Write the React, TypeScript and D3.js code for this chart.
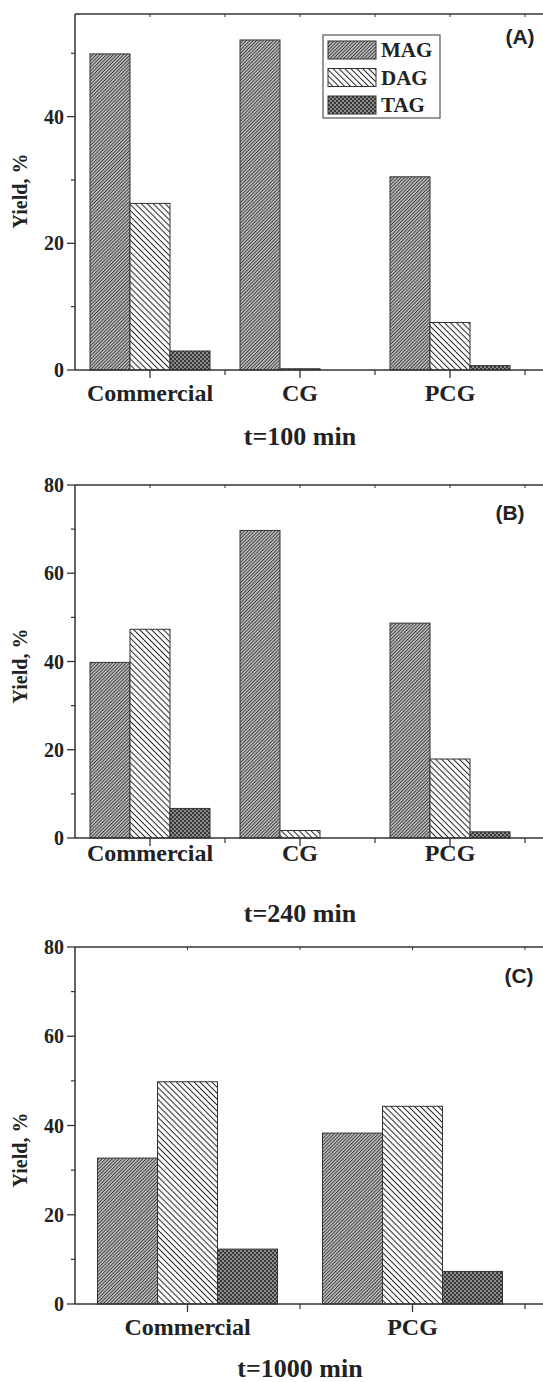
import * as d3 from "d3";

const seriesNames = ["MAG", "DAG", "TAG"];

// panel (A) t=100 min
const catsA = ["Commercial", "CG", "PCG"];
const magA = [49.9, 52.1, 30.5];
const dagA = [26.3, 0.2, 7.5];
const tagA = [3.0, 0, 0.7];

// panel (B) t=240 min
const catsB = ["Commercial", "CG", "PCG"];
const magB = [39.8, 69.7, 48.7];
const dagB = [47.3, 1.7, 17.9];
const tagB = [6.7, 0, 1.4];

// panel (C) t=1000 min
const catsC = ["Commercial", "PCG"];
const magC = [32.7, 38.3];
const dagC = [49.8, 44.3];
const tagC = [12.3, 7.3];

const ticksA = [0, 20, 40];
const minorA = [10, 30, 50];
const ticksBC = [0, 20, 40, 60, 80];
const minorBC = [10, 30, 50, 70];

const fills: Record<string, string> = {
  MAG: "url(#magFill)",
  DAG: "url(#dagFill)",
  TAG: "url(#tagFill)",
};

const serif = "'Liberation Serif', 'Times New Roman', serif";
const sans = "'Liberation Sans', Arial, sans-serif";
const ink = "#333";

interface PanelProps {
  cats: string[];
  values: number[][];
  top: number;
  bottom: number;
  yMax: number;
  ticks: number[];
  minor: number[];
  letter: string;
  letterX: number;
  letterY: number;
  catLabelY: number;
  title: string;
  titleY: number;
  yLabelY: number;
  legend?: boolean;
}

const Panel = (p: PanelProps) => {
  const left = 75;
  const right = 525;
  const x = d3.scaleBand<string>().domain(p.cats).range([left, right]).paddingInner(0.2).paddingOuter(0.1);
  const step = x.step();
  const inner = d3.scaleBand<string>().domain(seriesNames).range([0, x.bandwidth()]);
  const y = d3.scaleLinear().domain([0, p.yMax]).range([p.bottom, p.top]);

  const centers = p.cats.map((c) => (x(c) as number) + x.bandwidth() / 2);
  const bounds = d3.range(p.cats.length + 1).map((i) => left + i * step).slice(1);

  return (
    <g>
      {/* bars */}
      {p.cats.map((c, ci) =>
        seriesNames.map((s, si) => {
          const v = p.values[si][ci];
          if (v <= 0) return null;
          return (
            <rect
              key={c + s}
              x={(x(c) as number) + (inner(s) as number)}
              y={y(v)}
              width={inner.bandwidth()}
              height={p.bottom - y(v)}
              fill={fills[s]}
              stroke={ink}
              strokeWidth={1}
            />
          );
        })
      )}

      {/* frame */}
      <line x1={left} x2={560} y1={p.top} y2={p.top} stroke={ink} strokeWidth={1.5} />
      <line x1={left} x2={560} y1={p.bottom} y2={p.bottom} stroke={ink} strokeWidth={1.5} />
      <line x1={left} x2={left} y1={p.top} y2={p.bottom} stroke={ink} strokeWidth={1.5} />

      {/* y ticks */}
      {p.ticks.map((t) => (
        <g key={"t" + t}>
          <line x1={left - 8} x2={left} y1={y(t)} y2={y(t)} stroke={ink} strokeWidth={1.3} />
          <text
            x={left - 11}
            y={y(t) + 7}
            textAnchor="end"
            fontFamily={serif}
            fontWeight="bold"
            fontSize={20}
            fill="#222"
          >
            {t}
          </text>
        </g>
      ))}
      {p.minor.map((t) => (
        <line key={"m" + t} x1={left - 4} x2={left} y1={y(t)} y2={y(t)} stroke={ink} strokeWidth={1.2} />
      ))}

      {/* x ticks */}
      {centers.map((cx, i) => (
        <g key={"c" + i}>
          <line x1={cx} x2={cx} y1={p.bottom} y2={p.bottom + 8} stroke={ink} strokeWidth={1.3} />
          <line x1={cx} x2={cx} y1={p.top} y2={p.top + 3} stroke={ink} strokeWidth={1} />
        </g>
      ))}
      {bounds.map((bx, i) => (
        <g key={"b" + i}>
          <line x1={bx} x2={bx} y1={p.bottom} y2={p.bottom + 5} stroke={ink} strokeWidth={1.2} />
          <line x1={bx} x2={bx} y1={p.top} y2={p.top + 3} stroke={ink} strokeWidth={1} />
        </g>
      ))}

      {/* category labels */}
      {p.cats.map((c, i) => (
        <text
          key={"l" + c}
          x={centers[i]}
          y={p.catLabelY}
          textAnchor="middle"
          fontFamily={serif}
          fontWeight="bold"
          fontSize={24}
          fill="#222"
        >
          {c}
        </text>
      ))}

      {/* y axis title */}
      <text
        transform={`translate(27, ${p.yLabelY}) rotate(-90)`}
        textAnchor="middle"
        fontFamily={serif}
        fontWeight="bold"
        fontSize={20}
        fill="#222"
      >
        Yield, %
      </text>

      {/* panel letter */}
      <text
        x={p.letterX}
        y={p.letterY}
        textAnchor="middle"
        fontFamily={sans}
        fontWeight="bold"
        fontSize={21}
        fill="#222"
      >
        {p.letter}
      </text>

      {/* time caption */}
      <text
        x={300}
        y={p.titleY}
        textAnchor="middle"
        fontFamily={serif}
        fontWeight="bold"
        fontSize={26}
        fill="#222"
      >
        {p.title}
      </text>

      {p.legend && (
        <g>
          <rect x={323} y={35} width={117} height={83} fill="#fff" stroke="#555" strokeWidth={1.2} />
          {seriesNames.map((s, i) => (
            <g key={"lg" + s}>
              <rect x={328} y={41 + i * 27.5} width={48} height={18} fill={fills[s]} stroke={ink} strokeWidth={1} />
              <text
                x={381}
                y={41 + i * 27.5 + 16}
                fontFamily={serif}
                fontWeight="bold"
                fontSize={21}
                fill="#222"
              >
                {s}
              </text>
            </g>
          ))}
        </g>
      )}
    </g>
  );
};

export default function App() {
  return (
    <svg
      width={543}
      height={1382}
      style={{ position: "absolute", left: 0, top: 0, background: "#fff" }}
    >
      <defs>
        <pattern id="magFill" width={2.4} height={2.4} patternUnits="userSpaceOnUse" patternTransform="rotate(45)">
          <rect width={2.4} height={2.4} fill="#c6c6c6" />
          <line x1={1.2} x2={1.2} y1={0} y2={2.4} stroke="#3a3a3a" strokeWidth={1} />
        </pattern>
        <pattern id="dagFill" width={4.2} height={4.2} patternUnits="userSpaceOnUse" patternTransform="rotate(-45)">
          <rect width={4.2} height={4.2} fill="#fff" />
          <line x1={2.1} x2={2.1} y1={0} y2={4.2} stroke="#222" strokeWidth={1} />
        </pattern>
        <pattern id="tagFill" width={4} height={4} patternUnits="userSpaceOnUse">
          <rect width={4} height={4} fill="#8c8c8c" />
          <rect width={2} height={2} fill="#383838" />
          <rect x={2} y={2} width={2} height={2} fill="#383838" />
        </pattern>
      </defs>
      <rect width={543} height={1382} fill="#fff" />

      <Panel
        cats={catsA}
        values={[magA, dagA, tagA]}
        top={14}
        bottom={370}
        yMax={56.2}
        ticks={ticksA}
        minor={minorA}
        letter="(A)"
        letterX={520}
        letterY={44}
        catLabelY={401}
        title="t=100 min"
        titleY={445}
        yLabelY={191}
        legend
      />
      <Panel
        cats={catsB}
        values={[magB, dagB, tagB]}
        top={485}
        bottom={838}
        yMax={80}
        ticks={ticksBC}
        minor={minorBC}
        letter="(B)"
        letterX={510}
        letterY={520}
        catLabelY={861}
        title="t=240 min"
        titleY={922}
        yLabelY={666}
      />
      <Panel
        cats={catsC}
        values={[magC, dagC, tagC]}
        top={947}
        bottom={1304}
        yMax={80}
        ticks={ticksBC}
        minor={minorBC}
        letter="(C)"
        letterX={519}
        letterY={983}
        catLabelY={1335}
        title="t=1000 min"
        titleY={1377}
        yLabelY={1150}
      />
    </svg>
  );
}
